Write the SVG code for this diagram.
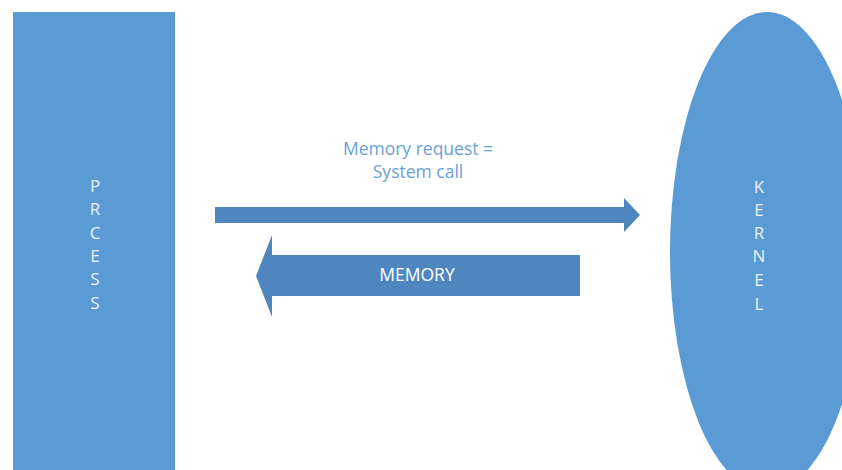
<svg xmlns="http://www.w3.org/2000/svg" width="842" height="470" viewBox="0 0 842 470">
<style>
.node{fill:#5B9BD5;}
.arrow{fill:#4F86BF;}
.vt{font-family:"Open Sans","Liberation Sans",sans-serif;font-size:17px;fill:#EAF1FA;text-anchor:middle;}
.lbl{font-family:"Open Sans","Liberation Sans",sans-serif;font-size:17.5px;fill:#6AA2D8;text-anchor:middle;}
.wl{font-family:"Open Sans","Liberation Sans",sans-serif;font-size:17.5px;fill:#FFFFFF;text-anchor:middle;}
</style>
<rect width="842" height="470" fill="#FFFFFF"/>
<g id="process">
<rect class="node" x="13" y="12" width="162" height="460"/>
<text class="vt" x="95" y="192">P</text>
<text class="vt" x="95" y="215">R</text>
<text class="vt" x="95" y="239">C</text>
<text class="vt" x="95" y="262">E</text>
<text class="vt" x="95" y="285">S</text>
<text class="vt" x="95" y="309">S</text>
</g>
<g id="kernel">
<ellipse class="node" cx="767" cy="252" rx="97" ry="240"/>
<text class="vt" x="759" y="193">K</text>
<text class="vt" x="759" y="216">E</text>
<text class="vt" x="759" y="239">R</text>
<text class="vt" x="759" y="262">N</text>
<text class="vt" x="759" y="286">E</text>
<text class="vt" x="759" y="310">L</text>
</g>
<g id="connectors">
<polygon class="arrow" points="215,207 624,207 624,198 640,215 624,232 624,223 215,223"/>
<polygon class="arrow" points="580,255 272,255 272,235 256,276 272,317 272,296 580,296"/>
</g>
<g id="labels">
<text class="lbl" x="418" y="155">Memory request =</text>
<text class="lbl" x="418" y="178">System call</text>
<text class="wl" x="417" y="281">MEMORY</text>
</g>
</svg>
